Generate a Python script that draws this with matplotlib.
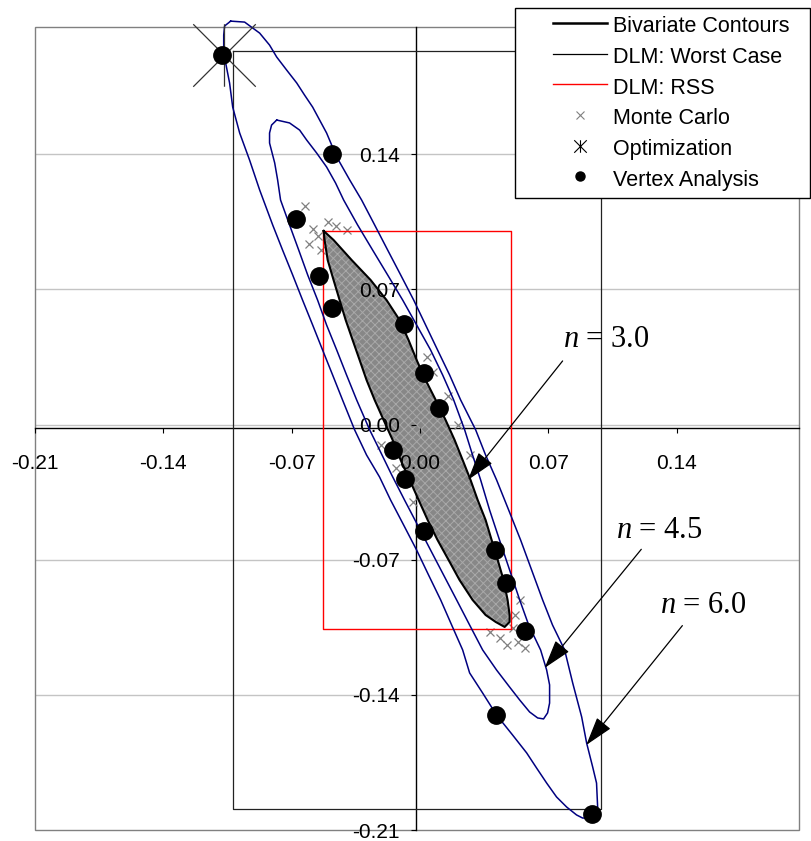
import matplotlib
matplotlib.use("Agg")
import matplotlib.pyplot as plt
from matplotlib.path import Path
from matplotlib.lines import Line2D
from matplotlib.patches import Rectangle

plt.rcParams["font.family"] = ["Liberation Sans", "DejaVu Sans"]
plt.rcParams["mathtext.fontset"] = "custom"
plt.rcParams["mathtext.it"] = "Liberation Serif:italic"
plt.rcParams["mathtext.rm"] = "Liberation Serif"
plt.rcParams["hatch.linewidth"] = 0.7

TICKS = [-0.21, -0.14, -0.07, 0.0, 0.07, 0.14]

# bivariate contours, n = 3.0 / 4.5 / 6.0
n3_x = [-0.0526, -0.0472, -0.0373, -0.0270, -0.0183, -0.0112, -0.0063, -0.0019, 0.0030, 0.0085,
        0.0139, 0.0188, 0.0232, 0.0275, 0.0314, 0.0357, 0.0390, 0.0423, 0.0455, 0.0477,
        0.0488, 0.0488, 0.0461, 0.0412, 0.0357, 0.0286, 0.0215, 0.0155, 0.0095, 0.0041,
        -0.0008, -0.0057, -0.0106, -0.0150, -0.0199, -0.0248, -0.0292, -0.0330, -0.0368, -0.0406,
        -0.0439, -0.0472, -0.0504, -0.0521, -0.0526]
n3_y = [0.1002, 0.0955, 0.0851, 0.0748, 0.0644, 0.0541, 0.0437, 0.0334, 0.0230, 0.0127,
        0.0023, -0.0080, -0.0184, -0.0287, -0.0391, -0.0494, -0.0598, -0.0701, -0.0805, -0.0908,
        -0.0986, -0.1022, -0.1048, -0.1022, -0.0986, -0.0908, -0.0805, -0.0701, -0.0598, -0.0494,
        -0.0391, -0.0287, -0.0184, -0.0080, 0.0023, 0.0127, 0.0230, 0.0334, 0.0437, 0.0541,
        0.0644, 0.0748, 0.0851, 0.0955, 0.1002]

n45_x = [-0.0782, -0.0712, -0.0657, -0.0619, -0.0564, -0.0510, -0.0461, -0.0417, -0.0341, -0.0259,
         -0.0177, -0.0095, -0.0019, 0.0057, 0.0123, 0.0183, 0.0243, 0.0286, 0.0330, 0.0379,
         0.0433, 0.0488, 0.0543, 0.0592, 0.0657, 0.0690, 0.0706, 0.0706, 0.0695, 0.0673,
         0.0641, 0.0597, 0.0543, 0.0488, 0.0417, 0.0341, 0.0270, 0.0199, 0.0128, 0.0057,
         -0.0014, -0.0085, -0.0155, -0.0221, -0.0275, -0.0346, -0.0401, -0.0455, -0.0510, -0.0559,
         -0.0613, -0.0662, -0.0712, -0.0761, -0.0777, -0.0793, -0.0821, -0.0821, -0.0810, -0.0782]
n45_y = [0.1576, 0.1561, 0.1524, 0.1473, 0.1405, 0.1333, 0.1250, 0.1162, 0.1033, 0.0903,
         0.0774, 0.0644, 0.0515, 0.0386, 0.0256, 0.0127, -0.0028, -0.0158, -0.0287, -0.0443,
         -0.0598, -0.0753, -0.0908, -0.1038, -0.1167, -0.1271, -0.1348, -0.1442, -0.1493, -0.1524,
         -0.1519, -0.1488, -0.1426, -0.1359, -0.1271, -0.1167, -0.1038, -0.0908, -0.0779, -0.0650,
         -0.0520, -0.0391, -0.0261, -0.0132, -0.0028, 0.0127, 0.0256, 0.0386, 0.0515, 0.0644,
         0.0774, 0.0903, 0.1033, 0.1162, 0.1266, 0.1354, 0.1457, 0.1509, 0.1550, 0.1576]

n6_x = [-0.1033, -0.0957, -0.0875, -0.0821, -0.0782, -0.0728, -0.0673, -0.0630, -0.0586, -0.0548,
        -0.0510, -0.0455, -0.0384, -0.0319, -0.0248, -0.0177, -0.0106, -0.0035, 0.0030, 0.0095,
        0.0161, 0.0221, 0.0303, 0.0357, 0.0417, 0.0483, 0.0548, 0.0608, 0.0668, 0.0722,
        0.0788, 0.0832, 0.0881, 0.0908, 0.0941, 0.0962, 0.0968, 0.0951, 0.0924,
        0.0886, 0.0853, 0.0799, 0.0744, 0.0690, 0.0635, 0.0581, 0.0504, 0.0417, 0.0341,
        0.0270, 0.0232, 0.0172, 0.0112, 0.0046, -0.0019, -0.0090, -0.0161, -0.0221, -0.0292,
        -0.0357, -0.0423, -0.0477, -0.0532, -0.0586, -0.0641, -0.0695, -0.0750, -0.0804, -0.0875,
        -0.0930, -0.0984, -0.1022, -0.1039, -0.1071, -0.1071, -0.1066, -0.1033]
n6_y = [0.2088, 0.2083, 0.2026, 0.1964, 0.1902, 0.1835, 0.1768, 0.1705, 0.1643, 0.1576,
        0.1509, 0.1385, 0.1266, 0.1162, 0.1033, 0.0903, 0.0774, 0.0644, 0.0515, 0.0386,
        0.0256, 0.0127, -0.0028, -0.0158, -0.0287, -0.0443, -0.0598, -0.0753, -0.0908, -0.1038,
        -0.1167, -0.1338, -0.1514, -0.1649, -0.1773, -0.1856, -0.1980, -0.2021, -0.2037,
        -0.2037, -0.2021, -0.1980, -0.1928, -0.1856, -0.1778, -0.1700, -0.1607, -0.1504, -0.1390,
        -0.1286, -0.1167, -0.1038, -0.0908, -0.0779, -0.0650, -0.0520, -0.0391, -0.0272, -0.0158,
        -0.0028, 0.0127, 0.0256, 0.0386, 0.0515, 0.0644, 0.0774, 0.0903, 0.1033, 0.1214,
        0.1369, 0.1509, 0.1643, 0.1768, 0.1923, 0.2016, 0.2063, 0.2088]

# DLM boxes (x range, y range)
wc_x = [-0.1022, 0.0984]
wc_y = [-0.1990, 0.1935]
rss_x = [-0.0532, 0.0493]
rss_y = [-0.1058, 0.1003]

# Monte Carlo points visible outside the dense cloud
mc_x = [-0.0630, -0.0586, -0.0608, -0.0559, -0.0504, -0.0401, -0.0461, -0.0543, 0.0035, 0.0068,
        0.0150, 0.0204, 0.0270, -0.0215, -0.0041, -0.0134, 0.0543, 0.0515, 0.0433, 0.0472,
        0.0532, 0.0570, 0.0379, 0.0504]
mc_y = [0.1131, 0.1012, 0.0934, 0.0976, 0.1048, 0.1007, 0.1027, 0.0903, 0.0349, 0.0272,
        0.0148, -0.0003, -0.0158, -0.0106, -0.0401, -0.0225, -0.0908, -0.0986, -0.1105, -0.1141,
        -0.1126, -0.1157, -0.1074, -0.1053]

opt_x = [-0.1070]
opt_y = [0.1912]

vtx_x = [-0.1079, -0.0479, -0.0679, -0.0553, -0.0481, -0.0088, 0.0021, 0.0101,
         -0.0148, -0.0085, 0.0021, 0.0406, 0.0470, 0.0570, 0.0415, 0.0939]
vtx_y = [0.1912, 0.1399, 0.1062, 0.0770, 0.0605, 0.0520, 0.0265, 0.0087,
         -0.0132, -0.0282, -0.0551, -0.0650, -0.0819, -0.1069, -0.1504, -0.2018]

NAVY = "#000080"
GREY = "#808080"

star = Path([(0, -1), (0, 1), (-1, -1), (1, 1), (-1, 1), (1, -1)],
            [Path.MOVETO, Path.LINETO, Path.MOVETO, Path.LINETO, Path.MOVETO, Path.LINETO])

fig = plt.figure(figsize=(8.11, 8.41), dpi=100)
ax = fig.add_axes([35 / 811, 10.8 / 841, 764 / 811, 802.7 / 841])
ax.set_xlim(-0.21, 0.2066)
ax.set_ylim(-0.21, 0.2055)

# excel-like frame: grey plot area border, axes crossing near the nominal point
for s in ("top", "right"):
    ax.spines[s].set_visible(False)
for s in ("left", "bottom"):
    ax.spines[s].set_position(("data", -0.002))
    ax.spines[s].set_linewidth(1.0)
    ax.spines[s].set_zorder(1)
ax.add_patch(Rectangle((0, 0), 1, 1, transform=ax.transAxes, fill=False, ec=GREY,
                       lw=1.0, zorder=0.6, clip_on=False))
for t in TICKS[1:]:
    ax.axhline(t, color="#c4c4c4", lw=1.0, zorder=0.5)

lbl = ["%.2f" % t for t in TICKS]
ax.set_xticks(TICKS, lbl)
ax.set_yticks(TICKS, lbl)
ax.tick_params(axis="both", direction="out", length=3.6, width=0.8, labelsize=15)
ax.tick_params(axis="x", pad=15)
ax.tick_params(axis="y", pad=8.5)

# Monte Carlo cloud (dense x marks -> grey area with an x texture)
ax.fill(n3_x, n3_y, facecolor="#878787", edgecolor="#a9a9a9", hatch="xxxx", lw=0, zorder=1.2)
ax.plot(mc_x, mc_y, "x", color=GREY, ms=6, mew=0.9, zorder=1.3)

# DLM boxes
ax.plot([wc_x[0], wc_x[1], wc_x[1], wc_x[0], wc_x[0]], [wc_y[1], wc_y[1], wc_y[0], wc_y[0], wc_y[1]],
        color="#222222", lw=0.9, zorder=2)
ax.plot([rss_x[0], rss_x[1], rss_x[1], rss_x[0], rss_x[0]], [rss_y[1], rss_y[1], rss_y[0], rss_y[0], rss_y[1]],
        color="#ff0000", lw=1.0, zorder=2)

# contours
ax.plot(n6_x, n6_y, color=NAVY, lw=1.1, zorder=3, clip_on=False)
ax.plot(n45_x, n45_y, color=NAVY, lw=1.1, zorder=3, clip_on=False)
ax.plot(n3_x, n3_y, color="black", lw=1.5, zorder=3)

ax.plot(opt_x, opt_y, marker=star, ms=45, mec="#333333", mfc="none", mew=0.9, ls="none",
        zorder=4, clip_on=False)
ax.plot(vtx_x, vtx_y, "o", color="black", ms=12.5, zorder=5, clip_on=False)

# n labels with arrows
notes = [("3.0", (0.0777, 0.0401), (0.0777, 0.0329), (0.0261, -0.0287)),
         ("4.5", (0.1070, -0.0587), (0.1206, -0.0646), (0.0679, -0.1260)),
         ("6.0", (0.1306, -0.0976), (0.1430, -0.1041), (0.0906, -0.1659))]
for val, tp, a0, a1 in notes:
    ax.text(tp[0], tp[1], r"$n$ = " + val, fontsize=22, family="Liberation Serif",
            ha="left", va="baseline", zorder=6)
    ax.annotate("", xy=a1, xytext=a0, zorder=6,
                arrowprops=dict(arrowstyle="-|>,head_length=1.8,head_width=0.55",
                                mutation_scale=10, color="black", lw=0.9,
                                shrinkA=0, shrinkB=0))

# legend, drawn in figure pixels
def fxy(px, py):
    return px / 811, 1 - py / 841

fig.add_artist(Rectangle(fxy(515, 198), 295 / 811, 190 / 841, transform=fig.transFigure,
                         fc="white", ec="black", lw=1.0, zorder=10))
labels = ["Bivariate Contours", "DLM: Worst Case", "DLM: RSS", "Monte Carlo",
          "Optimization", "Vertex Analysis"]
base = [32.3, 63, 93.7, 124.4, 155.1, 185.8]
for i, (lab, b) in enumerate(zip(labels, base)):
    hy = b - 9.5
    x0, y0 = fxy(553, hy)
    x1, _ = fxy(607, hy)
    xm, _ = fxy(580, hy)
    if i == 0:
        h = Line2D([x0, x1], [y0, y0], color="black", lw=1.8)
    elif i == 1:
        h = Line2D([x0, x1], [y0, y0], color="black", lw=0.9)
    elif i == 2:
        h = Line2D([x0, x1], [y0, y0], color="#ff0000", lw=1.0)
    elif i == 3:
        h = Line2D([xm], [y0], marker="x", color=GREY, ms=6, mew=0.8, ls="none")
    elif i == 4:
        h = Line2D([xm], [y0], marker=star, ms=9, mec="black", mfc="none", mew=0.8, ls="none")
    else:
        h = Line2D([xm], [y0], marker="o", color="black", ms=6.5, ls="none")
    h.set_transform(fig.transFigure)
    h.set_zorder(11)
    fig.add_artist(h)
    tx, ty = fxy(613, b)
    fig.text(tx, ty, lab, fontsize=15.5, ha="left", va="baseline", zorder=11)

fig.savefig("out.png", dpi=100)
